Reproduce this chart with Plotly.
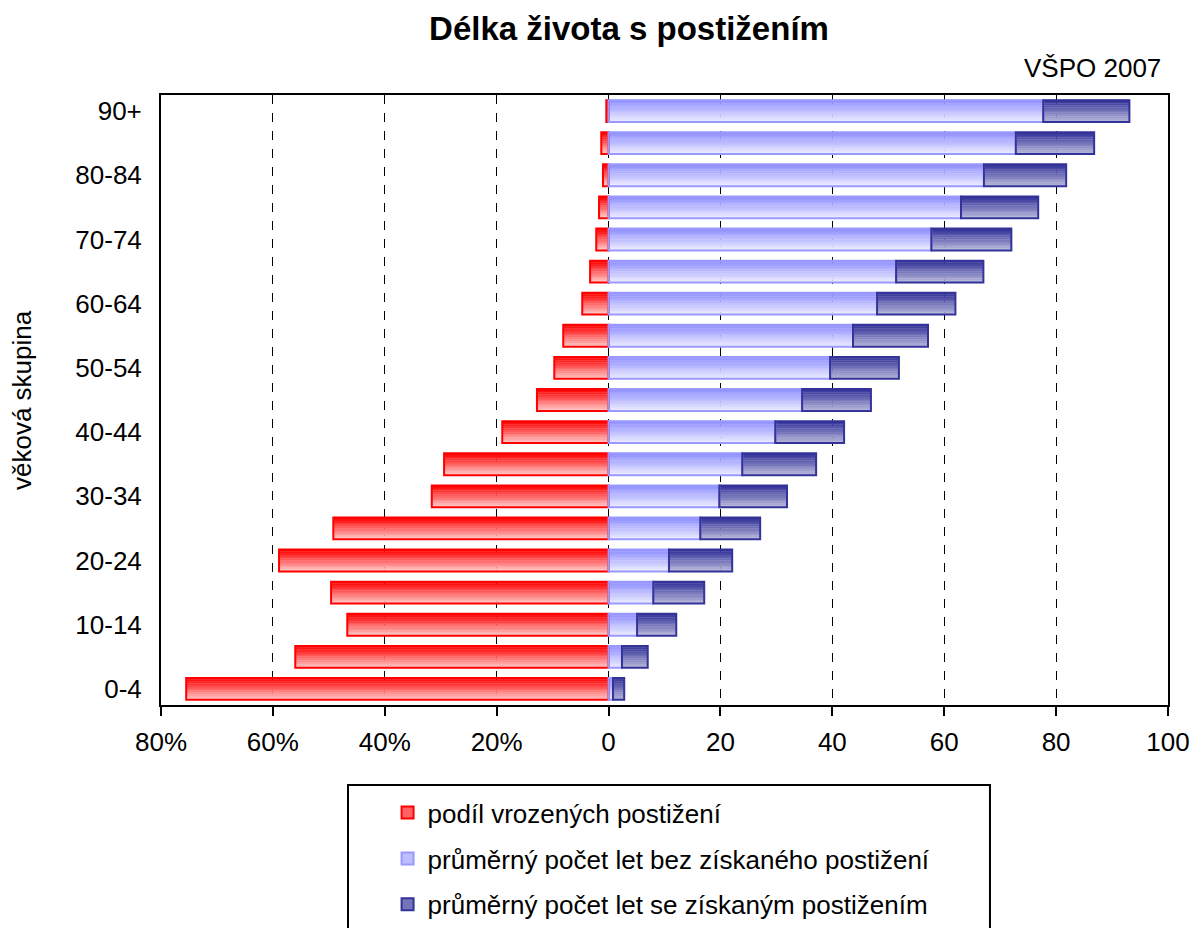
import plotly.graph_objects as go

# ---- data ----
categories = ["0-4", "5-9", "10-14", "15-19", "20-24", "25-29", "30-34", "35-39",
              "40-44", "45-49", "50-54", "55-59", "60-64", "65-69", "70-74",
              "75-79", "80-84", "85-89", "90+"]
congenital_pct = [75.5, 56.0, 46.7, 49.6, 58.9, 49.2, 31.6, 29.4, 19.0, 12.8,
                  9.7, 8.1, 4.7, 3.3, 2.2, 1.7, 1.0, 1.3, 0.4]
years_without = [0.8, 2.4, 5.1, 8.0, 10.8, 16.4, 19.8, 23.9, 29.8, 34.6,
                 39.6, 43.7, 48.0, 51.4, 57.7, 63.0, 67.1, 72.8, 77.7]
years_with = [2.0, 4.6, 7.0, 9.1, 11.3, 10.7, 12.1, 13.2, 12.3, 12.3,
              12.3, 13.4, 14.0, 15.6, 14.3, 13.8, 14.7, 14.0, 15.4]
y_tick_labels = ["0-4", "10-14", "20-24", "30-34", "40-44", "50-54", "60-64",
                 "70-74", "80-84", "90+"]
x_tick_vals = [-80, -60, -40, -20, 0, 20, 40, 60, 80, 100]
x_tick_text = ["80%", "60%", "40%", "20%", "0", "20", "40", "60", "80", "100"]

names = ["podíl vrozených postižení",
         "průměrný počet let bez získaného postižení",
         "průměrný počet let se získaným postižením"]

FONT = "Liberation Sans, Arial, sans-serif"
BAR_W = 0.68
N_STRIPES = 12


def hex_to_rgb(h):
    h = h.lstrip("#")
    return tuple(int(h[i:i + 2], 16) for i in (0, 2, 4))


def mix(c1, c2, t):
    a, b = hex_to_rgb(c1), hex_to_rgb(c2)
    return "rgb(%d,%d,%d)" % tuple(round(a[i] + (b[i] - a[i]) * t) for i in range(3))


series = [
    # (x values, base values, top color, bottom color, line color)
    ([-v for v in congenital_pct], [0] * len(categories), "#FF0000", "#FFC4C4", "#FF0000"),
    (years_without, [0] * len(categories), "#9090FF", "#EAEAFF", "#9999FF"),
    (years_with, years_without, "#333399", "#B4B4D8", "#333399"),
]

fig = go.Figure()

# gradient stripes
for xs, base, top_c, bot_c, line_c in series:
    for k in range(N_STRIPES):
        t = k / (N_STRIPES - 1)  # 0 = bottom, 1 = top
        sw = BAR_W / N_STRIPES
        fig.add_trace(go.Bar(
            y=categories, x=xs, base=base, orientation="h",
            width=sw * 1.15, offset=-BAR_W / 2 + k * sw,
            marker=dict(color=mix(bot_c, top_c, t), line=dict(width=0)),
            showlegend=False, hoverinfo="skip"))

# outlines
for (xs, base, top_c, bot_c, line_c), nm in zip(series, names):
    fig.add_trace(go.Bar(
        y=categories, x=xs, base=base, orientation="h",
        width=BAR_W, offset=-BAR_W / 2,
        marker=dict(color="rgba(0,0,0,0)", line=dict(color=line_c, width=2)),
        showlegend=False, name=nm))

# legend entries
for i, ((xs, base, top_c, bot_c, line_c), nm) in enumerate(zip(series, names)):
    fig.add_trace(go.Bar(
        y=[None], x=[None], orientation="h", name=nm,
        legendgroup="g%d" % i,
        marker=dict(color=mix(bot_c, top_c, 0.5), line=dict(color=line_c, width=2))))

fig.update_layout(
    width=1192, height=928,
    barmode="overlay",
    paper_bgcolor="white", plot_bgcolor="white",
    margin=dict(l=161, r=24, t=95, b=223, autoexpand=False),
    font=dict(family=FONT, size=26, color="black"),
    title=dict(text="<b>Délka života s postižením</b>", x=0.5277, xanchor="center",
               y=0.969, yanchor="middle", font=dict(size=33, family=FONT, color="black")),
    xaxis=dict(range=[-80, 100], tickvals=x_tick_vals, ticktext=x_tick_text,
               showgrid=True, gridcolor="black", gridwidth=1, griddash="dash",
               zeroline=False, showline=True, linecolor="black", linewidth=2,
               mirror=True, ticks="outside", ticklen=9, tickcolor="black",
               tickwidth=2, ticklabelstandoff=4, automargin=False,
               tickfont=dict(size=26)),
    yaxis=dict(type="category", categoryorder="array", categoryarray=categories,
               range=[-0.5, 18.5], tickvals=y_tick_labels, ticktext=y_tick_labels,
               showgrid=False, zeroline=False, showline=True, linecolor="black",
               linewidth=2, mirror=True, ticks="", tickfont=dict(size=26),
               ticklabelstandoff=12, automargin=False),
    legend=dict(x=0.225, y=-0.138, xanchor="left", yanchor="top",
                traceorder="grouped", tracegroupgap=9,
                font=dict(size=26), bgcolor="rgba(0,0,0,0)", borderwidth=0),
    showlegend=True,
    annotations=[
        dict(text="VŠPO 2007", xref="paper", yref="paper", x=0.995, y=1.044,
             xanchor="right", yanchor="middle", showarrow=False, font=dict(size=26)),
        dict(text="věková skupina", xref="paper", yref="paper", x=-0.138, y=0.5,
             xanchor="center", yanchor="middle", textangle=-90, showarrow=False,
             font=dict(size=26)),
    ],
    shapes=[dict(type="rect", xref="paper", yref="paper",
                 x0=0.1857, x1=0.8232, y0=-0.131, y1=-0.40,
                 line=dict(color="black", width=2), fillcolor="rgba(0,0,0,0)")],
)

fig.write_html("out.html", config={"displayModeBar": False},
               post_script="document.body.style.margin='0';document.body.style.padding='0';")
